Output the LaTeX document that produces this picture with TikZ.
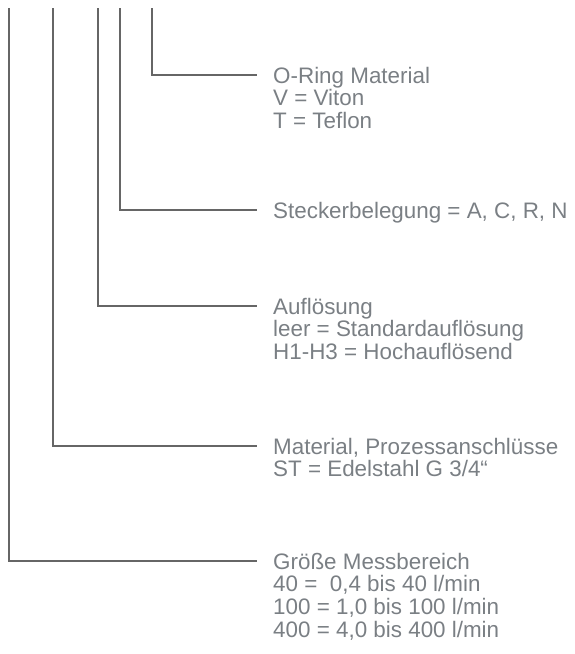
\documentclass[tikz,border=0pt]{standalone}
\usepackage{fontspec}
\setmainfont{Liberation Sans}
\definecolor{linegray}{HTML}{666666}
\definecolor{txtgray}{HTML}{7A7F84}
\tikzset{
  conn/.style={draw=linegray, line width=2.3pt},
  lbl/.style={anchor=base west, inner sep=0pt, text=txtgray, font=\fontsize{22.4}{22.5}\selectfont}
}
\begin{document}
\begin{tikzpicture}[x=1pt,y=-1pt]
\useasboundingbox (0,0) rectangle (574,654);
% tops
\coordinate (t1) at (9,8);
\coordinate (t2) at (53,8);
\coordinate (t3) at (98,8);
\coordinate (t4) at (120,8);
\coordinate (t5) at (152,8);
% line ends
\coordinate (e1) at (257,561);
\coordinate (e2) at (257,446);
\coordinate (e3) at (257,306);
\coordinate (e4) at (257,210);
\coordinate (e5) at (257,75);
% labels
\node[lbl] (l5) at (273,83) {\begin{tabular}[t]{@{}l@{}}O-Ring Material\\ V = Viton\\ T = Teflon\end{tabular}};
\node[lbl] (l4) at (273,218) {\begin{tabular}[t]{@{}l@{}}Steckerbelegung = A, C, R, N\end{tabular}};
\node[lbl] (l3) at (273,314) {\begin{tabular}[t]{@{}l@{}}Auflösung\\ leer = Standardauflösung\\ H1-H3 = Hochauflösend\end{tabular}};
\node[lbl] (l2) at (273,454) {\begin{tabular}[t]{@{}l@{}}Material, Prozessanschlüsse\\ ST = Edelstahl G 3/4“\end{tabular}};
\node[lbl] (l1) at (273,569) {\begin{tabular}[t]{@{}l@{}}Größe Messbereich\\ 40 = \ 0,4 bis 40 l/min\\ 100 = 1,0 bis 100 l/min\\ 400 = 4,0 bis 400 l/min\end{tabular}};
% connectors
\draw[conn] (t1) |- (e1);
\draw[conn] (t2) |- (e2);
\draw[conn] (t3) |- (e3);
\draw[conn] (t4) |- (e4);
\draw[conn] (t5) |- (e5);
\end{tikzpicture}
\end{document}
